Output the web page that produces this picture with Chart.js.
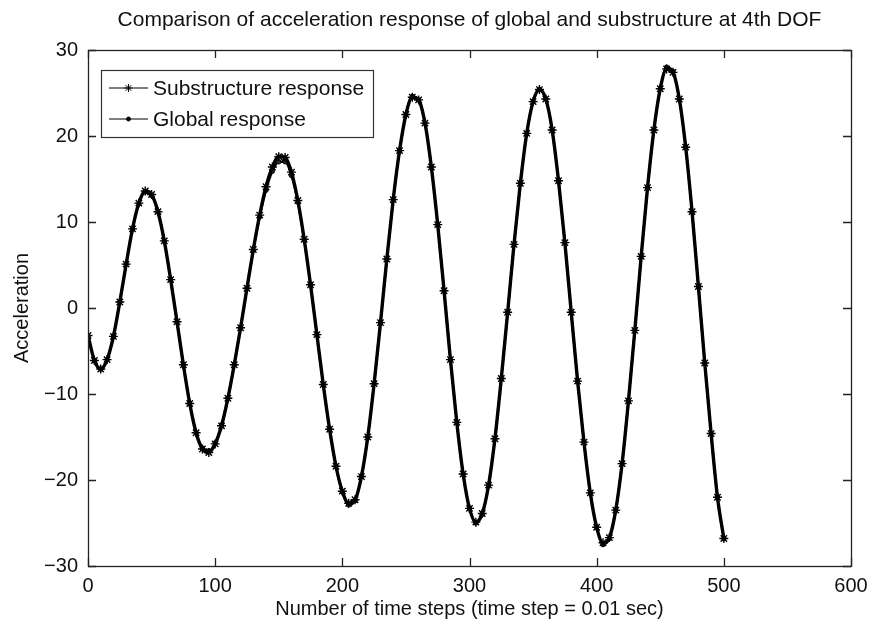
<!DOCTYPE html>
<html lang="en">
<head>
<meta charset="UTF-8">
<title>Acceleration response at 4th DOF</title>
<style>
  body { margin: 0; background: #fff; }
  #wrap { width: 875px; height: 624px; }
</style>
</head>
<body>
<div id="wrap"><canvas id="chart" width="875" height="624"></canvas></div>
<script src="https://cdn.jsdelivr.net/npm/chart.js@4"></script>
<script>
// time step index (sampled every 5 steps)
const timeSteps = [
  0, 5, 10, 15, 20, 25, 30, 35, 40, 45, 50, 55, 60, 65, 70, 75, 80, 85, 90, 95,
  100, 105, 110, 115, 120, 125, 130, 135, 140, 145, 150, 155, 160, 165, 170, 175, 180, 185, 190, 195,
  200, 205, 210, 215, 220, 225, 230, 235, 240, 245, 250, 255, 260, 265, 270, 275, 280, 285, 290, 295,
  300, 305, 310, 315, 320, 325, 330, 335, 340, 345, 350, 355, 360, 365, 370, 375, 380, 385, 390, 395,
  400, 405, 410, 415, 420, 425, 430, 435, 440, 445, 450, 455, 460, 465, 470, 475, 480, 485, 490, 495,
  500
];

const substructure = [
  -3.2, -6.1, -7.1, -6.0, -3.3, 0.7, 5.1, 9.2, 12.2, 13.6, 13.2, 11.2, 7.8, 3.3, -1.6, -6.6, -11.1, -14.5, -16.4, -16.8,
  -15.8, -13.7, -10.5, -6.6, -2.3, 2.3, 6.8, 10.8, 14.1, 16.4, 17.6, 17.5, 15.8, 12.5, 8.0, 2.7, -3.1, -8.9, -14.1, -18.4,
  -21.3, -22.7, -22.3, -19.6, -15.0, -8.8, -1.7, 5.7, 12.6, 18.3, 22.5, 24.5, 24.2, 21.5, 16.4, 9.7, 2.0, -6.0, -13.3, -19.3,
  -23.3, -24.9, -23.9, -20.6, -15.2, -8.2, -0.5, 7.4, 14.5, 20.3, 24.0, 25.4, 24.3, 20.7, 14.8, 7.6, -0.5, -8.5, -15.6, -21.5,
  -25.5, -27.3, -26.7, -23.5, -18.1, -10.8, -2.6, 6.0, 14.0, 20.7, 25.5, 27.8, 27.4, 24.3, 18.7, 11.2, 2.5, -6.4, -14.6, -22.0,
  -26.8
];

const globalResp = [
  -3.3, -6.1, -7.1, -6.0, -3.3, 0.7, 5.1, 9.2, 12.1, 13.5, 13.1, 11.2, 7.8, 3.3, -1.6, -6.6, -11.1, -14.5, -16.3, -16.6,
  -15.7, -13.6, -10.5, -6.6, -2.3, 2.3, 6.7, 10.6, 13.7, 15.9, 17.0, 17.0, 15.4, 12.3, 7.9, 2.7, -3.1, -8.9, -14.1, -18.4,
  -21.4, -22.9, -22.4, -19.6, -15.0, -8.8, -1.7, 5.7, 12.6, 18.3, 22.5, 24.6, 24.2, 21.5, 16.4, 9.7, 2.0, -6.0, -13.3, -19.3,
  -23.3, -25.0, -24.0, -20.6, -15.2, -8.2, -0.5, 7.4, 14.5, 20.3, 24.0, 25.4, 24.3, 20.7, 14.8, 7.6, -0.5, -8.5, -15.6, -21.5,
  -25.5, -27.5, -26.8, -23.5, -18.1, -10.8, -2.6, 6.0, 14.0, 20.7, 25.5, 28.0, 27.5, 24.3, 18.7, 11.2, 2.5, -6.4, -14.6, -22.0,
  -26.8
];

const xTicks = [0, 100, 200, 300, 400, 500, 600];
const yTicks = [-30, -20, -10, 0, 10, 20, 30];

const FONT = '"Liberation Sans", Arial, Helvetica, sans-serif';

// MATLAB style: box, inward ticks on all sides, title, legend box
const matlabBox = {
  id: 'matlabBox',
  afterDatasetsDraw(chart) {
    const { ctx, chartArea: a, scales: { x, y } } = chart;
    ctx.save();
    ctx.strokeStyle = '#222';
    ctx.lineWidth = 1.3;
    ctx.strokeRect(a.left + 0.5, a.top + 0.5, a.right - a.left, a.bottom - a.top);

    ctx.beginPath();
    xTicks.forEach(v => {
      const px = Math.round(x.getPixelForValue(v)) + 0.5;
      ctx.moveTo(px, a.bottom); ctx.lineTo(px, a.bottom - 8);
      ctx.moveTo(px, a.top); ctx.lineTo(px, a.top + 8);
    });
    yTicks.forEach(v => {
      const py = Math.round(y.getPixelForValue(v)) + 0.5;
      ctx.moveTo(a.left, py); ctx.lineTo(a.left + 8, py);
      ctx.moveTo(a.right, py); ctx.lineTo(a.right - 8, py);
    });
    ctx.stroke();

    // title
    ctx.fillStyle = '#111';
    ctx.font = '21px ' + FONT;
    ctx.textAlign = 'center';
    ctx.textBaseline = 'middle';
    ctx.fillText('Comparison of acceleration response of global and substructure at 4th DOF',
      (a.left + a.right) / 2, 20);

    // legend
    const lx = 101, ly = 70, lw = 272, lh = 67;
    ctx.fillStyle = '#fff';
    ctx.fillRect(lx, ly, lw, lh);
    ctx.strokeStyle = '#333';
    ctx.lineWidth = 1.2;
    ctx.strokeRect(lx + 0.5, ly + 0.5, lw, lh);
    chart.data.datasets.forEach((ds, i) => {
      const yy = 88 + i * 31;
      ctx.strokeStyle = '#000';
      ctx.lineWidth = 1;
      ctx.beginPath();
      ctx.moveTo(109, yy); ctx.lineTo(148, yy);
      ctx.stroke();
      ctx.fillStyle = '#000';
      Chart.helpers.drawPoint(ctx, {
        pointStyle: ds.pointStyle, radius: i === 0 ? 4 : 2, rotation: 0, borderWidth: 1.2
      }, 128.5, yy);
      ctx.fillStyle = '#111';
      ctx.font = '21px ' + FONT;
      ctx.textAlign = 'left';
      ctx.fillText(ds.label, 153, yy + 1);
    });
    ctx.restore();
  }
};

new Chart(document.getElementById('chart'), {
  type: 'line',
  data: {
    datasets: [
      {
        label: 'Substructure response',
        data: timeSteps.map((t, i) => ({ x: t, y: substructure[i] })),
        borderColor: '#000',
        borderWidth: 3.4,
        pointStyle: 'star',
        pointRadius: 4.5,
        pointBorderWidth: 1.4,
        pointBorderColor: '#000',
        pointBackgroundColor: '#000',
        cubicInterpolationMode: 'monotone'
      },
      {
        label: 'Global response',
        data: timeSteps.map((t, i) => ({ x: t, y: globalResp[i] })),
        borderColor: '#000',
        borderWidth: 2.2,
        pointStyle: 'circle',
        pointRadius: 2.2,
        pointBorderWidth: 1,
        pointBorderColor: '#000',
        pointBackgroundColor: '#333',
        cubicInterpolationMode: 'monotone'
      }
    ]
  },
  options: {
    responsive: false,
    animation: false,
    devicePixelRatio: 1,
    layout: { padding: { top: 50, right: 24, left: 0, bottom: 0 } },
    plugins: {
      legend: { display: false },
      tooltip: { enabled: false }
    },
    scales: {
      x: {
        type: 'linear',
        min: 0,
        max: 600,
        afterFit: s => { s.height = 58; },
        afterBuildTicks: s => { s.ticks = xTicks.map(v => ({ value: v })); },
        grid: { display: false },
        border: { display: false },
        ticks: { color: '#111', font: { family: FONT, size: 20 }, padding: 0, maxRotation: 0 },
        title: {
          display: true,
          text: 'Number of time steps (time step = 0.01 sec)',
          color: '#111',
          font: { family: FONT, size: 20 },
          padding: { top: 0, bottom: 3 }
        }
      },
      y: {
        min: -30,
        max: 30,
        afterFit: s => { s.width = 88; },
        afterBuildTicks: s => { s.ticks = yTicks.map(v => ({ value: v })); },
        grid: { display: false },
        border: { display: false },
        ticks: {
          color: '#111',
          font: { family: FONT, size: 20 },
          padding: 2,
          callback: v => (v < 0 ? '\u2212' + Math.abs(v) : String(v))
        },
        title: {
          display: true,
          text: 'Acceleration',
          color: '#111',
          font: { family: FONT, size: 20 },
          padding: { top: 10, bottom: 0 }
        }
      }
    }
  },
  plugins: [matlabBox]
});
</script>
</body>
</html>
